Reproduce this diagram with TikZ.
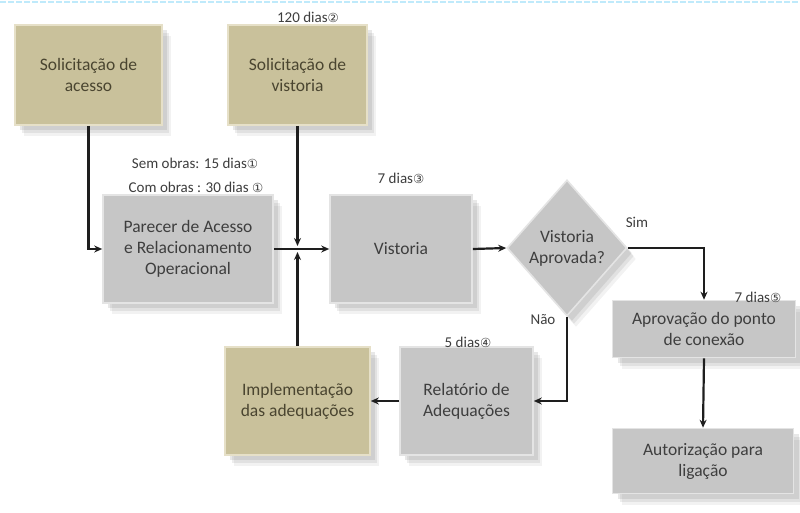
\documentclass[tikz,border=0pt]{standalone}
\usepackage{fontspec}
\setmainfont{Carlito}
\newfontfamily\symf{DejaVu Sans}
\usetikzlibrary{shapes.geometric,shadows,arrows.meta,calc}
\definecolor{tanfill}{HTML}{C9C19B}
\definecolor{tanedge}{HTML}{E6E0C8}
\definecolor{grayfill}{HTML}{C6C6C6}
\definecolor{grayedge}{HTML}{E4E4E4}
\definecolor{txtgray}{HTML}{3E3E3E}
\definecolor{txttan}{HTML}{4A4530}
\definecolor{linecol}{HTML}{1E1E1E}
\newcommand{\cnum}[1]{{\symf\fontsize{12.5}{13}\selectfont #1}}
\tikzset{
  boxbase/.style={rectangle, align=center, line width=1.6pt, inner sep=2pt,
    font=\fontsize{17.5}{21}\selectfont,
    drop shadow={opacity=0.10, shadow xshift=9pt, shadow yshift=-11pt},
    drop shadow={opacity=0.14, shadow xshift=7pt, shadow yshift=-8pt},
    drop shadow={opacity=0.18, shadow xshift=5pt, shadow yshift=-5pt}},
  tanbox/.style={boxbase, fill=tanfill, draw=tanedge, text=txttan},
  graybox/.style={boxbase, fill=grayfill, draw=grayedge, text=txtgray},
  lbl/.style={font=\fontsize{15}{17}\selectfont, text=txtgray, inner sep=0pt},
  conn/.style={draw=linecol, line width=2.2pt, -{Stealth[length=8pt,width=7pt]}}
}
\begin{document}
\begin{tikzpicture}[x=1pt,y=-1pt]
\useasboundingbox (0,0) rectangle (800,513);
\fill[white] (0,0) rectangle (800,513);
\draw[cyan!25, line width=1.2pt, dash pattern=on 6pt off 2pt] (0,2) -- (800,2);

% boxes
\node[tanbox, minimum width=147pt, minimum height=100pt] (acesso) at (88.5,75) {Solicitação de\\acesso};
\node[tanbox, minimum width=139pt, minimum height=100pt] (vreq) at (297.5,75) {Solicitação de\\vistoria};
\node[graybox, minimum width=170pt, minimum height=108pt] (parecer) at (188,249) {Parecer de Acesso\\e Relacionamento\\Operacional};
\node[graybox, minimum width=142pt, minimum height=108pt] (vist) at (401,249) {Vistoria};
\node[graybox, diamond, inner sep=0pt, minimum width=120pt, minimum height=136pt] (dec) at (567,248) {Vistoria\\Aprovada?};
\node[graybox, minimum width=183pt, minimum height=57pt] (aprov) at (704,329) {Aprovação do ponto\\de conexão};
\node[graybox, minimum width=181pt, minimum height=65pt] (autor) at (703,461) {Autorização para\\ligação};
\node[graybox, minimum width=133pt, minimum height=108pt] (relat) at (466.5,401) {Relatório de\\Adequações};
\node[tanbox, minimum width=145pt, minimum height=108pt] (impl) at (297.5,401) {Implementação\\das adequações};

% labels
\node[lbl] (l120) at (308,17) {120 dias\cnum{②}};
\node[lbl] (lsem) at (195,163) {Sem obras: 15 dias\cnum{①}};
\node[lbl] (lcom) at (196,187) {Com obras : 30 dias \cnum{①}};
\node[lbl] (l7a) at (401,178) {7 dias\cnum{③}};
\node[lbl] (lsim) at (637,222) {Sim};
\node[lbl] (lnao) at (543,320) {Não};
\node[lbl] (l5) at (468,342) {5 dias\cnum{④}};
\node[lbl] (l7b) at (758,297) {7 dias\cnum{⑤}};

% connectors
\coordinate (j) at (vreq.south |- parecer.east);
\draw[conn] (acesso.south) |- (parecer.west);
\draw[conn] (vreq.south) -- ($(j)+(0,-3)$);
\draw[conn] (impl.north) -- ($(j)+(0,3)$);
\draw[conn] (parecer.east) -- (vist.west);
\draw[conn] (vist.east) -- (dec.west);
\draw[conn] (dec.east) -| (aprov.north);
\draw[conn] (dec.south) |- (relat.east);
\draw[conn] (relat.west) -- (impl.east);
\draw[conn] (aprov.south) -- (autor.north);
\end{tikzpicture}
\end{document}
